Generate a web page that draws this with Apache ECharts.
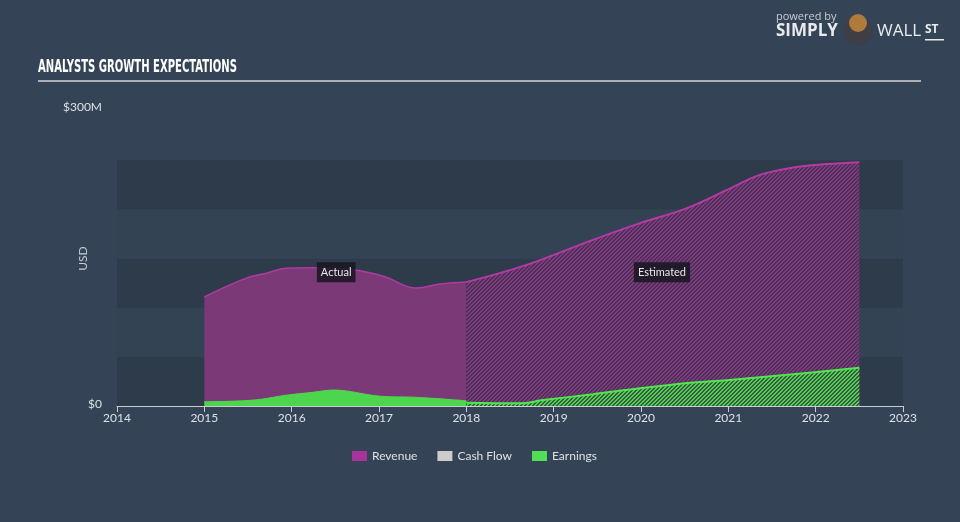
<!DOCTYPE html>
<html>
<head>
<meta charset="utf-8">
<script src="https://cdn.jsdelivr.net/npm/echarts@6/dist/echarts.min.js"></script>
<style>
html,body{margin:0;padding:0;background:#344456;}
#c{width:960px;height:522px;}
</style>
</head>
<body>
<div id="c"></div>
<script>
// ---- data ----
var xTicks = [2014, 2015, 2016, 2017, 2018, 2019, 2020, 2021, 2022, 2023];
var yTickLabels = ['$0', '$300M'];
var revenueActualX = [2015.0, 2015.48, 2015.71, 2015.94, 2016.25, 2016.7, 2017.05, 2017.43, 2017.7, 2018.0];
var revenueActualY = [111, 130, 135, 140, 140.5, 138.5, 132, 120, 124, 126];
var revenueEstX = [2018.0, 2018.69, 2019.45, 2019.99, 2020.52, 2020.98, 2021.36, 2021.74, 2022.13, 2022.5];
var revenueEstY = [126, 143.5, 169, 186, 201, 219.5, 235, 242.5, 246, 248];
var earningsActualX = [2015.0, 2015.56, 2015.94, 2016.25, 2016.48, 2016.63, 2017.01, 2017.43, 2018.0];
var earningsActualY = [4.3, 6, 11, 14, 16.2, 15.2, 10, 8.8, 5.3];
var earningsEstX = [2018.0, 2018.61, 2018.88, 2019.45, 2019.99, 2020.6, 2020.98, 2021.74, 2022.5];
var earningsEstY = [3.3, 2.7, 6, 12, 18, 23.8, 26.3, 32.3, 39];
var annotations = [{name: 'Actual', x: 2016.51, y: 136}, {name: 'Estimated', x: 2020.24, y: 136}];

function pairs(xs, ys) { return xs.map(function (x, i) { return [x, ys[i]]; }); }

function hatch(bg, fg) {
  var n = 4;
  var cv = document.createElement('canvas');
  cv.width = n; cv.height = n;
  var ctx = cv.getContext('2d');
  ctx.fillStyle = bg; ctx.fillRect(0, 0, n, n);
  ctx.fillStyle = fg;
  for (var i = 0; i < n; i++) { ctx.fillRect(i, n - 1 - i, 1, 1); ctx.fillRect((i + 1) % n, n - 1 - i, 1, 1); }
  return {image: cv, repeat: 'repeat'};
}

var chart = echarts.init(document.getElementById('c'));
var BG = '#344456';
chart.setOption({
  backgroundColor: BG,
  animation: false,
  grid: {left: 117, right: 57, top: 111, bottom: 116},
  legend: {
    data: ['Revenue', 'Cash Flow', 'Earnings'],
    bottom: 55, left: 347, itemWidth: 15, itemHeight: 10, itemGap: 20,
    icon: 'rect',
    textStyle: {color: '#dde0e4', fontSize: 12, fontFamily: 'Lato'}
  },
  graphic: [
    {type: 'text', x: 38, y: 59, scaleX: 0.657, style: {text: 'ANALYSTS GROWTH EXPECTATIONS', fill: '#ffffff', font: 'bold 17px "DejaVu Sans Condensed"'}},
    {type: 'rect', shape: {x: 38, y: 80, width: 883, height: 2}, style: {fill: '#a9afb6'}},
    {type: 'text', x: 776, y: 11, style: {text: 'powered by', fill: '#c8ccd1', font: '11px "Open Sans"'}},
    {type: 'text', x: 776, y: 23, style: {text: 'SIMPLY', fill: '#e8eaec', font: 'bold 17px "Open Sans"'}},
    {type: 'circle', shape: {cx: 858, cy: 31, r: 14}, style: {fill: '#3e3e44'}},
    {type: 'circle', shape: {cx: 858, cy: 23, r: 9}, style: {fill: '#b07a3a'}},
    {type: 'text', x: 877, y: 23, style: {text: 'WALL', fill: '#e8eaec', font: '17px "Open Sans"'}},
    {type: 'text', x: 925, y: 24, style: {text: 'ST', fill: '#e8eaec', font: 'bold 12px "Open Sans"'}},
    {type: 'rect', shape: {x: 925, y: 39, width: 19, height: 1.5}, style: {fill: '#e8eaec'}}
  ],
  xAxis: {
    type: 'value', min: 2014, max: 2023, interval: 1,
    axisLine: {show: true, onZero: false, lineStyle: {color: '#c8cdd3', width: 1}},
    axisTick: {show: true, length: 6, lineStyle: {color: '#c8cdd3'}},
    axisLabel: {color: '#dde0e4', fontSize: 12, fontFamily: 'Lato', margin: 6,
      formatter: function (v) { return xTicks.indexOf(v) >= 0 ? String(v) : ''; }},
    splitLine: {show: false}
  },
  yAxis: {
    type: 'value', min: 0, max: 300, interval: 50,
    name: 'USD', nameLocation: 'middle', nameGap: 28, nameRotate: 90, nameMoveOverlap: false,
    nameTextStyle: {color: '#c8ccd1', fontSize: 12, fontFamily: 'Lato'},
    axisLine: {show: false}, axisTick: {show: false},
    axisLabel: {color: '#dde0e4', fontSize: 12, fontFamily: 'Lato', margin: 15,
      formatter: function (v) { return v === 0 ? '{b|' + yTickLabels[0] + '}' : (v === 300 ? '{t|' + yTickLabels[1] + '}' : ''); },
      rich: {t: {padding: [0, 0, 7, 0], color: '#dde0e4', fontSize: 12, fontFamily: 'Lato'},
             b: {padding: [0, 0, 3, 0], color: '#dde0e4', fontSize: 12, fontFamily: 'Lato'}}},
    splitLine: {show: false},
    splitArea: {show: true, areaStyle: {color: ['#2e3b4a', '#334354', '#2e3b4a', '#334354', '#2e3b4a', 'rgba(0,0,0,0)']}}
  },
  series: [
    {name: 'Revenue', type: 'line', smooth: 0.4, symbol: 'none', data: pairs(revenueActualX, revenueActualY),
      itemStyle: {color: '#a8339a'}, lineStyle: {color: '#b03aa2', width: 1.5},
      areaStyle: {color: '#7b3977', opacity: 1}, z: 2,
      markPoint: {symbol: 'rect', symbolSize: 0, data: [{coord: [annotations[0].x, annotations[0].y]}],
        label: {show: true, formatter: annotations[0].name, color: '#e6e6ea', fontSize: 11, fontFamily: 'Lato',
          backgroundColor: 'rgba(22,22,32,0.85)', padding: [5, 4, 4, 4]}}},
    {name: 'Revenue', type: 'line', smooth: 0.4, symbol: 'none', data: pairs(revenueEstX, revenueEstY),
      itemStyle: {color: '#a8339a'}, lineStyle: {color: '#b53aa6', width: 2},
      areaStyle: {color: hatch('#4d3056', '#7e3b80'), opacity: 1}, z: 2,
      markPoint: {symbol: 'rect', symbolSize: 0, data: [{coord: [annotations[1].x, annotations[1].y]}],
        label: {show: true, formatter: annotations[1].name, color: '#e6e6ea', fontSize: 11, fontFamily: 'Lato',
          backgroundColor: 'rgba(22,22,32,0.85)', padding: [5, 4, 4, 4]}}},
    {name: 'Cash Flow', type: 'line', symbol: 'none', data: [], itemStyle: {color: '#cccccc'}},
    {name: 'Earnings', type: 'line', smooth: 0.4, symbol: 'none', data: pairs(earningsActualX, earningsActualY),
      itemStyle: {color: '#4fe053'}, lineStyle: {color: '#4fd84f', width: 1},
      areaStyle: {color: '#4dd54d', opacity: 1}, z: 3},
    {name: 'Earnings', type: 'line', smooth: 0.4, symbol: 'none', data: pairs(earningsEstX, earningsEstY),
      itemStyle: {color: '#4fe053'}, lineStyle: {color: '#4fe64f', width: 2},
      areaStyle: {color: hatch('#3a5a44', '#4fcf52'), opacity: 1}, z: 3}
  ]
});
</script>
</body>
</html>
